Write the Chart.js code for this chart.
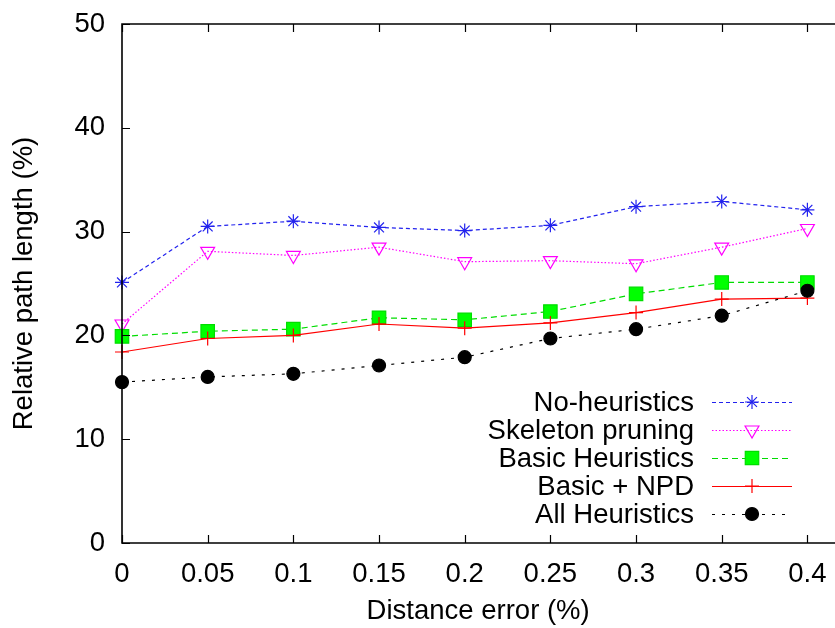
<!DOCTYPE html>
<html>
<head>
<meta charset="utf-8">
<script src="https://cdn.jsdelivr.net/npm/chart.js@4/dist/chart.umd.min.js"></script>
<style>
  html, body { margin: 0; padding: 0; background: #fff; overflow: hidden; }
  #wrap { width: 835px; height: 628px; overflow: hidden; }
</style>
</head>
<body>
<div id="wrap"><canvas id="myChart" width="845" height="628"></canvas></div>
<script>
// x values (distance error) and y values (relative path length)
const errors = [0, 0.05, 0.1, 0.15, 0.2, 0.25, 0.3, 0.35, 0.4];
const noHeuristics = [25.1, 30.5, 31.0, 30.4, 30.1, 30.6, 32.4, 32.9, 32.1];
const skeletonPruning = [21.1, 28.1, 27.7, 28.5, 27.1, 27.2, 26.9, 28.5, 30.3];
const basicHeuristics = [19.9, 20.4, 20.6, 21.7, 21.5, 22.3, 24.0, 25.1, 25.1];
const basicNpd = [18.4, 19.7, 20.0, 21.1, 20.7, 21.2, 22.2, 23.5, 23.6];
const allHeuristics = [15.5, 16.0, 16.3, 17.1, 17.9, 19.7, 20.6, 21.9, 24.3];
const xTicks = [0, 0.05, 0.1, 0.15, 0.2, 0.25, 0.3, 0.35, 0.4];
const yTicks = [0, 10, 20, 30, 40, 50];

const FONT = "'Liberation Sans', Arial, Helvetica, sans-serif";
const FONT_SIZE = 27.5;

function pts(arr) {
    return arr.map((v, i) => ({ x: errors[i], y: v }));
}

function series(label, values, color, dash, style, radius, fill, rotation) {
    return {
        label: label,
        data: pts(values),
        borderColor: color,
        borderWidth: 1.2,
        borderDash: dash,
        pointStyle: style,
        pointRadius: radius,
        pointHoverRadius: radius,
        pointRotation: rotation || 0,
        pointBorderColor: color,
        pointBackgroundColor: fill,
        pointBorderWidth: 1.2,
        tension: 0,
        fill: false,
        clip: false
    };
}

const datasets = [
    series("No-heuristics", noHeuristics, "#2222ee", [4, 3], "star", 7, "rgba(0,0,0,0)"),
    series("Skeleton pruning", skeletonPruning, "#ff00ff", [1.5, 2], "triangle", 8, "rgba(0,0,0,0)", 180),
    series("Basic Heuristics", basicHeuristics, "#00dd00", [6, 4], "rect", 9.5, "#00ff00"),
    series("Basic + NPD", basicNpd, "#ff0000", [], "cross", 7, "#ff0000"),
    series("All Heuristics", allHeuristics, "#000000", [3, 7], "circle", 6.5, "#000000")
];
// later series drawn on top, as in the source
datasets.forEach((d, i) => { d.order = datasets.length - i; });

// frame with inward ticks, no right border (cropped in the original)
const framePlugin = {
    id: "frame",
    afterDatasetsDraw(chart) {
        const { ctx, chartArea: a, scales } = chart;
        ctx.save();
        ctx.strokeStyle = "#000";
        ctx.lineWidth = 1.6;
        ctx.beginPath();
        ctx.moveTo(chart.width, a.top);
        ctx.lineTo(a.left, a.top);
        ctx.lineTo(a.left, a.bottom);
        ctx.lineTo(chart.width, a.bottom);
        ctx.stroke();
        ctx.lineWidth = 1.2;
        ctx.beginPath();
        yTicks.forEach(v => {
            const y = Math.round(scales.y.getPixelForValue(v)) + 0.5;
            ctx.moveTo(a.left, y);
            ctx.lineTo(a.left + 8, y);
        });
        xTicks.forEach(v => {
            const x = Math.round(scales.x.getPixelForValue(v)) + 0.5;
            ctx.moveTo(x, a.bottom);
            ctx.lineTo(x, a.bottom - 8);
            ctx.moveTo(x, a.top);
            ctx.lineTo(x, a.top + 8);
        });
        ctx.stroke();
        ctx.restore();
    }
};

// gnuplot-style key inside the plot
const keyPlugin = {
    id: "key",
    afterDraw(chart) {
        const { ctx } = chart;
        const textRight = 694, lineL = 712, lineR = 792, top = 402, step = 28;
        ctx.save();
        ctx.font = FONT_SIZE + "px " + FONT;
        ctx.textAlign = "right";
        ctx.textBaseline = "middle";
        chart.data.datasets.forEach((d, i) => {
            const y = top + i * step;
            ctx.fillStyle = "#000";
            ctx.fillText(d.label, textRight, y + 1);
            ctx.strokeStyle = d.borderColor;
            ctx.lineWidth = d.borderWidth;
            ctx.setLineDash(d.borderDash);
            ctx.beginPath();
            ctx.moveTo(lineL, y + 0.5);
            ctx.lineTo(lineR, y + 0.5);
            ctx.stroke();
            ctx.setLineDash([]);
            ctx.fillStyle = d.pointBackgroundColor;
            ctx.strokeStyle = d.pointBorderColor;
            ctx.lineWidth = d.pointBorderWidth;
            Chart.helpers.drawPoint(ctx, {
                pointStyle: d.pointStyle,
                rotation: d.pointRotation,
                radius: d.pointRadius,
                borderWidth: d.pointBorderWidth
            }, (lineL + lineR) / 2, y);
        });
        ctx.restore();
    }
};

document.addEventListener("DOMContentLoaded", function () {
    const ctx = document.getElementById("myChart").getContext("2d");
    Chart.defaults.font.family = FONT;
    Chart.defaults.font.size = FONT_SIZE;
    Chart.defaults.color = "#000";

    new Chart(ctx, {
        type: "line",
        data: { datasets: datasets },
        options: {
            responsive: false,
            animation: false,
            events: [],
            layout: { padding: { top: 24, right: 0, left: 0, bottom: 0 } },
            plugins: {
                legend: { display: false },
                tooltip: { enabled: false }
            },
            scales: {
                x: {
                    type: "linear",
                    min: 0,
                    max: 0.4157,
                    afterBuildTicks: s => { s.ticks = xTicks.map(v => ({ value: v })); },
                    afterFit: s => {
                        s.height = 85;
                        s.paddingLeft = 0;
                        s.paddingRight = 0;
                    },
                    grid: { display: false, drawTicks: false },
                    border: { display: false },
                    ticks: {
                        padding: 15,
                        maxRotation: 0,
                        autoSkip: false,
                        callback: v => String(v)
                    },
                    title: {
                        display: true,
                        text: "Distance error (%)",
                        padding: { top: 1, bottom: 0 }
                    }
                },
                y: {
                    min: 0,
                    max: 50,
                    afterBuildTicks: s => { s.ticks = yTicks.map(v => ({ value: v })); },
                    afterFit: s => {
                        s.width = 122;
                        s.paddingTop = 0;
                        s.paddingBottom = 0;
                    },
                    grid: { display: false, drawTicks: false },
                    border: { display: false },
                    ticks: { padding: 17 },
                    title: {
                        display: true,
                        text: "Relative path length (%)",
                        padding: { top: 8, bottom: 0 }
                    }
                }
            }
        },
        plugins: [framePlugin, keyPlugin]
    });
});
</script>
</body>
</html>
